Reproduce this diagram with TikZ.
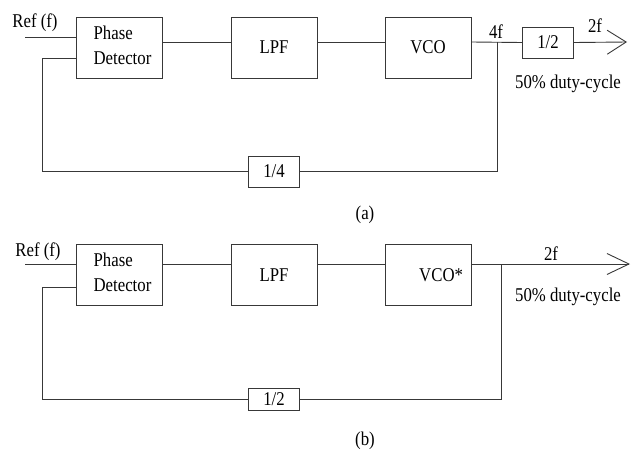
\documentclass[tikz,border=0pt]{standalone}
\usepackage{fontspec}
\setmainfont[FakeStretch=0.86]{Liberation Serif}
\usetikzlibrary{arrows.meta}
\newcommand{\pdtext}{\hspace*{7pt}\begin{tabular}{@{}l@{}}Phase\\[4pt]Detector\end{tabular}}
\begin{document}
\begin{tikzpicture}[x=1pt,y=-1pt,
  font=\fontsize{19.5}{21}\selectfont,
  wire/.style={line width=0.9pt, draw=black!78},
  blk/.style={draw, line width=0.9pt, black!78, text=black, inner sep=0pt, align=center, minimum width=86pt, minimum height=61pt},
  divbox/.style={draw, line width=0.9pt, black!78, text=black, inner sep=0pt, minimum width=51pt, minimum height=31pt},
  lbl/.style={anchor=base, inner sep=0pt, text=black}
]
\useasboundingbox (0,0) rectangle (633,450);
% ---------------- (a) ----------------
\node[blk] (pdA) at (119,47.5) {\pdtext};
\node[blk] (lpfA) at (274,47.5) {LPF};
\node[blk] (vcoA) at (428,47.5) {VCO};
\node[divbox] (halfA) at (548,42.5) {1/2};
\node[divbox] (quarterA) at (274,171.5) {1/4};
\coordinate (inA) at (25,37);
\coordinate (fbA) at (42,58);
\coordinate (tapA) at (497,42);
\coordinate (outA) at (627,42);
\draw[wire] (inA) -- (inA -| pdA.west);
\draw[wire] (pdA.east |- 0,42) -- (lpfA.west |- 0,42);
\draw[wire] (lpfA.east |- 0,42) -- (vcoA.west |- 0,42);
\draw[wire] (vcoA.east |- 0,42) -- (halfA.west);
\draw[wire, -{Straight Barb[length=19pt, width=24pt, line width=0.9pt]}] (halfA.east) -- (outA);
\draw[wire] (pdA.west |- fbA) -- (fbA) |- (quarterA.west);
\draw[wire] (quarterA.east) -| (tapA);
\node[lbl] (refA) at (35,27) {Ref (f)};
\node[lbl] (fourf) at (496,38) {4f};
\node[lbl] (twofA) at (595,32) {2f};
\node[lbl] (dutyA) at (568,88) {50\% duty-cycle};
\node[lbl] (capA) at (365,219) {(a)};
% ---------------- (b) ----------------
\node[blk] (pdB) at (119,275) {\pdtext};
\node[blk] (lpfB) at (274,275) {LPF};
\node[blk, text width=70pt, align=right, inner xsep=8pt] (vcoB) at (428,275) {VCO*};
\node[divbox, minimum height=22pt] (halfB) at (274,399) {1/2};
\coordinate (inB) at (25,264);
\coordinate (fbB) at (42,287);
\coordinate (tapB) at (501,264);
\coordinate (outB) at (630,264);
\draw[wire] (inB) -- (inB -| pdB.west);
\draw[wire] (pdB.east |- 0,264) -- (lpfB.west |- 0,264);
\draw[wire] (lpfB.east |- 0,264) -- (vcoB.west |- 0,264);
\draw[wire, -{Straight Barb[length=22pt, width=21pt, line width=0.9pt]}] (vcoB.east |- 0,264) -- (outB);
\draw[wire] (pdB.west |- fbB) -- (fbB) |- (halfB.west);
\draw[wire] (halfB.east) -| (tapB);
\node[lbl] (refB) at (38,256) {Ref (f)};
\node[lbl] (twofB) at (551,260) {2f};
\node[lbl] (dutyB) at (568,301) {50\% duty-cycle};
\node[lbl] (capB) at (365,445) {(b)};
\end{tikzpicture}
\end{document}
